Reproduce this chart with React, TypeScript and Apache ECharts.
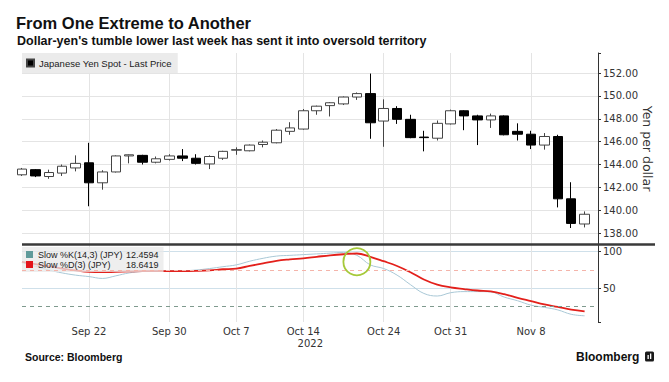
import React, { useEffect, useRef } from "react";
import * as echarts from "echarts";

const titleText = "From One Extreme to Another";
const subtitleText = "Dollar-yen's tumble lower last week has sent it into oversold territory";
const sourceText = "Source: Bloomberg";
const brandText = "Bloomberg";

const dates = [
  "Sep 15", "Sep 16", "Sep 19", "Sep 20", "Sep 21", "Sep 22", "Sep 23", "Sep 26", "Sep 27", "Sep 28", "Sep 29", "Sep 30",
  "Oct 3", "Oct 4", "Oct 5", "Oct 6", "Oct 7", "Oct 10", "Oct 11", "Oct 12", "Oct 13", "Oct 14", "Oct 17", "Oct 18",
  "Oct 19", "Oct 20", "Oct 21", "Oct 24", "Oct 25", "Oct 26", "Oct 27", "Oct 28", "Oct 31", "Nov 1", "Nov 2", "Nov 3",
  "Nov 4", "Nov 7", "Nov 8", "Nov 9", "Nov 10", "Nov 11", "Nov 14", "Nov 15",
];
const labelDates = ["Sep 22", "Sep 30", "Oct 7", "Oct 14", "Oct 24", "Oct 31", "Nov 8"];
const yearLabelDate = "Oct 14";
const yearLabel = "2022";

const opens = [143.1, 143.55, 142.95, 143.25, 143.7, 144.15, 142.4, 143.35, 144.75, 144.8, 144.2, 144.45, 144.75, 144.55, 144.05, 144.55, 145.25, 145.2, 145.75, 145.9, 146.9, 147.1, 148.7, 149.15, 149.3, 149.9, 150.2, 147.8, 148.9, 147.95, 146.4, 146.3, 147.55, 148.7, 148.25, 147.9, 148.25, 146.9, 146.65, 145.7, 146.45, 141.0, 138.8];
const closes = [143.6, 143.0, 143.3, 143.85, 144.1, 142.4, 143.35, 144.75, 144.85, 144.2, 144.5, 144.75, 144.55, 144.1, 144.7, 145.15, 145.3, 145.7, 145.95, 147.0, 147.2, 148.7, 149.1, 149.4, 149.9, 150.2, 147.65, 148.9, 147.95, 146.35, 146.35, 147.6, 148.7, 148.25, 147.9, 148.25, 146.6, 146.65, 145.7, 146.45, 141.0, 138.85, 139.65];
const highs = [143.7, 143.6, 143.55, 144.0, 144.8, 145.9, 143.5, 144.8, 144.88, 144.85, 144.7, 144.9, 145.35, 144.9, 144.8, 145.2, 145.5, 145.75, 146.1, 147.1, 147.7, 148.85, 149.15, 149.45, 149.95, 150.3, 151.95, 149.7, 149.1, 148.35, 146.95, 147.85, 148.8, 148.75, 148.35, 148.45, 148.3, 147.6, 146.95, 146.75, 146.6, 142.45, 139.9];
const lows = [143.0, 142.9, 142.75, 143.0, 143.4, 140.35, 141.8, 143.3, 144.1, 144.0, 144.1, 144.35, 144.3, 144.0, 143.6, 144.4, 144.85, 145.15, 145.5, 145.85, 146.6, 147.05, 148.35, 148.2, 149.2, 149.65, 146.25, 145.55, 147.55, 146.3, 145.15, 146.1, 147.5, 147.0, 145.7, 147.2, 146.55, 146.1, 145.35, 145.3, 140.25, 138.45, 138.5];

const kValues = [85, 80, 75, 71, 68, 66, 63.5, 67, 71, 73, 73.5, 74, 74, 75, 77, 79.5, 82, 87, 91, 94, 95, 96, 97, 98, 99, 95, 82, 77, 68, 55, 43, 39.5, 44, 45.5, 45.5, 45, 38, 33, 27, 24, 20.5, 14.5, 12.4594];
const dValues = [86, 83, 80, 77, 74.5, 72.5, 72, 72.5, 73, 73.5, 73.5, 73.5, 73.5, 73.8, 74.5, 76, 77, 80.5, 84, 87.5, 89.5, 91, 93, 95, 96.5, 97.5, 93, 87, 80.5, 72, 62, 55, 51.3, 49, 47, 45.7, 42, 37, 32.5, 28, 24.5, 21, 18.6419];

const priceName = "Japanese Yen Spot - Last Price";
const kName = "Slow %K(14,3) (JPY)";
const dName = "Slow %D(3) (JPY)";
const overbought = 75;
const oversold = 25;
const highlight = ["Oct 20", 86.3];

const AXIS_FONT = "DejaVu Sans";
const TEXT_FONT = "Liberation Sans, Arial, sans-serif";

export default function App() {
  const ref = useRef<HTMLDivElement>(null);
  useEffect(() => {
    document.body.style.margin = "0";
    if (!ref.current) return;
    const chart = echarts.init(ref.current, undefined, { renderer: "svg" });
    const candleData = opens.map((o, i) => [o, closes[i], lows[i], highs[i]]);
    const labelSet = new Set(labelDates);
    const latest: Record<string, string> = {
      [kName]: kValues[kValues.length - 1].toFixed(4),
      [dName]: dValues[dValues.length - 1].toFixed(4),
    };
    const option: any = {
      animation: false,
      title: [
        { text: titleText, left: 16, top: 14, padding: 0, textStyle: { fontFamily: TEXT_FONT, fontWeight: "bold", fontSize: 16.5, color: "#111" } },
        { text: subtitleText, left: 17, top: 34.5, padding: 0, textStyle: { fontFamily: TEXT_FONT, fontWeight: "bold", fontSize: 12.5, color: "#111" } },
        { text: sourceText, left: 25, top: 351.5, padding: 0, textStyle: { fontFamily: TEXT_FONT, fontWeight: "bold", fontSize: 10.5, color: "#111" } },
        { text: brandText, left: 576, top: 351, padding: 0, textStyle: { fontFamily: TEXT_FONT, fontWeight: "bold", fontSize: 12, color: "#111" } },
      ],
      legend: [
        {
          data: [{ name: priceName, itemStyle: { color: "#000" } }],
          left: 22, top: 53, padding: [5, 6, 5, 4], backgroundColor: "#ebebeb",
          icon: "rect", itemWidth: 7, itemHeight: 7, selectedMode: false,
          textStyle: { fontFamily: TEXT_FONT, fontSize: 9.5, color: "#222" },
        },
        {
          data: [
            { name: kName, itemStyle: { color: "#5f9a9a" } },
            { name: dName, itemStyle: { color: "#e3141b" } },
          ],
          left: 22, top: 247, orient: "vertical", padding: [3, 5, 3, 4], itemGap: 1,
          backgroundColor: "rgba(232,232,232,0.75)",
          icon: "rect", itemWidth: 7, itemHeight: 7, selectedMode: false,
          formatter: (name: string) => `{n|${name}}{v|${latest[name]}}`,
          textStyle: {
            fontFamily: TEXT_FONT, fontSize: 9, color: "#222",
            rich: { n: { width: 88, fontSize: 9, fontFamily: TEXT_FONT, color: "#222" }, v: { fontSize: 9, fontFamily: TEXT_FONT, color: "#222" } },
          },
        },
      ],
      grid: [
        { left: 22, top: 53, width: 576, height: 191 },
        { left: 22, top: 244, width: 576, height: 78 },
      ],
      xAxis: [
        {
          type: "category", gridIndex: 0, data: dates, boundaryGap: false,
          axisLine: { show: false }, axisTick: { show: false }, axisLabel: { show: false },
          splitLine: { show: true, interval: (i: number, v: string) => labelSet.has(v), lineStyle: { color: "#e4e4e4", width: 1 } },
        },
        {
          type: "category", gridIndex: 1, data: dates, boundaryGap: false,
          axisLine: { show: false }, axisTick: { show: false },
          axisLabel: {
            interval: (i: number, v: string) => labelSet.has(v),
            margin: 3, fontFamily: AXIS_FONT, fontSize: 10, color: "#333", lineHeight: 12,
            formatter: (v: string) => (v === yearLabelDate ? `${v}\n{y|${yearLabel}}` : v),
            rich: { y: { fontFamily: AXIS_FONT, fontSize: 10, color: "#333", padding: [0, 0, 0, 14], lineHeight: 12 } },
          },
          splitLine: { show: true, interval: (i: number, v: string) => labelSet.has(v), lineStyle: { color: "#e4e4e4", width: 1 } },
        },
      ],
      yAxis: [
        {
          type: "value", gridIndex: 0, position: "right", scale: true,
          min: 137.05, max: 153.75, splitNumber: 8, minInterval: 2, maxInterval: 2,
          axisLine: { show: true, lineStyle: { color: "#333", width: 1 } },
          axisTick: { show: true, length: 3, lineStyle: { color: "#333" } },
          axisLabel: {
            margin: 5, fontFamily: AXIS_FONT, fontSize: 10, color: "#333",
            showMinLabel: true, showMaxLabel: true,
            formatter: (v: number) => {
              const r = Math.round(v);
              return Math.abs(v - r) < 1e-6 && r % 2 === 0 ? r.toFixed(2) : "";
            },
          },
          splitLine: { show: true, showMinLine: false, showMaxLine: false, lineStyle: { color: "#e4e4e4", width: 1 } },
          name: "Yen per dollar", nameLocation: "middle", nameRotate: -90, nameGap: 43, nameMoveOverlap: false,
          nameTextStyle: { fontFamily: AXIS_FONT, fontSize: 12.5, color: "#333" },
        },
        {
          type: "value", gridIndex: 1, position: "right",
          min: 4, max: 110.5, minInterval: 50, maxInterval: 50,
          axisLine: { show: true, lineStyle: { color: "#333", width: 1 } },
          axisTick: { show: true, length: 3, lineStyle: { color: "#333" } },
          axisLabel: {
            margin: 5, fontFamily: AXIS_FONT, fontSize: 10, color: "#333",
            formatter: (v: number) => (v === 50 || v === 100 ? String(v) : ""),
          },
          splitLine: { show: true, showMinLine: false, showMaxLine: false, lineStyle: { color: "#cfe0ea", width: 1 } },
        },
      ],
      series: [
        {
          name: priceName, type: "candlestick", xAxisIndex: 0, yAxisIndex: 0,
          data: candleData, barWidth: 10, clip: true,
          itemStyle: { color: "#ffffff", color0: "#000000", borderColor: "#444", borderColor0: "#000", borderWidth: 1 },
        },
        {
          name: kName, type: "line", xAxisIndex: 1, yAxisIndex: 1, data: kValues,
          smooth: 0.4, showSymbol: false, symbol: "none",
          lineStyle: { color: "#a9c8d6", width: 1 }, itemStyle: { color: "#5f9a9a" },
          markLine: {
            silent: true, symbol: ["none", "none"], label: { show: false },
            data: [
              { yAxis: overbought, lineStyle: { color: "#f4b4aa", type: [4, 4], width: 1 } },
              { yAxis: oversold, lineStyle: { color: "#7f9a8e", type: [4, 4], width: 1 } },
            ],
          },
        },
        {
          name: dName, type: "line", xAxisIndex: 1, yAxisIndex: 1, data: dValues,
          smooth: 0.4, showSymbol: false, symbol: "none",
          lineStyle: { color: "#e3201b", width: 1.8 }, itemStyle: { color: "#e3141b" },
          markPoint: {
            silent: true, symbol: "circle", symbolSize: 27, label: { show: false },
            itemStyle: { color: "rgba(0,0,0,0)", borderColor: "#a6c93a", borderWidth: 1.8 },
            data: [{ coord: highlight }],
          },
        },
      ],
      graphic: [
        { type: "line", shape: { x1: 22, y1: 244.5, x2: 655, y2: 244.5 }, style: { stroke: "#3a3a3a", lineWidth: 2.5 }, z: 100 },
        { type: "rect", shape: { x: 645, y: 351.5, width: 9, height: 10, r: 1.5 }, style: { fill: "#1a1a1a" } },
        { type: "rect", shape: { x: 647.5, y: 355, width: 1.3, height: 4 }, style: { fill: "#fff" } },
        { type: "rect", shape: { x: 650, y: 353.5, width: 1.3, height: 5.5 }, style: { fill: "#fff" } },
      ],
    };
    chart.setOption(option);
    return () => chart.dispose();
  }, []);
  return <div ref={ref} style={{ width: 669, height: 382 }} />;
}
